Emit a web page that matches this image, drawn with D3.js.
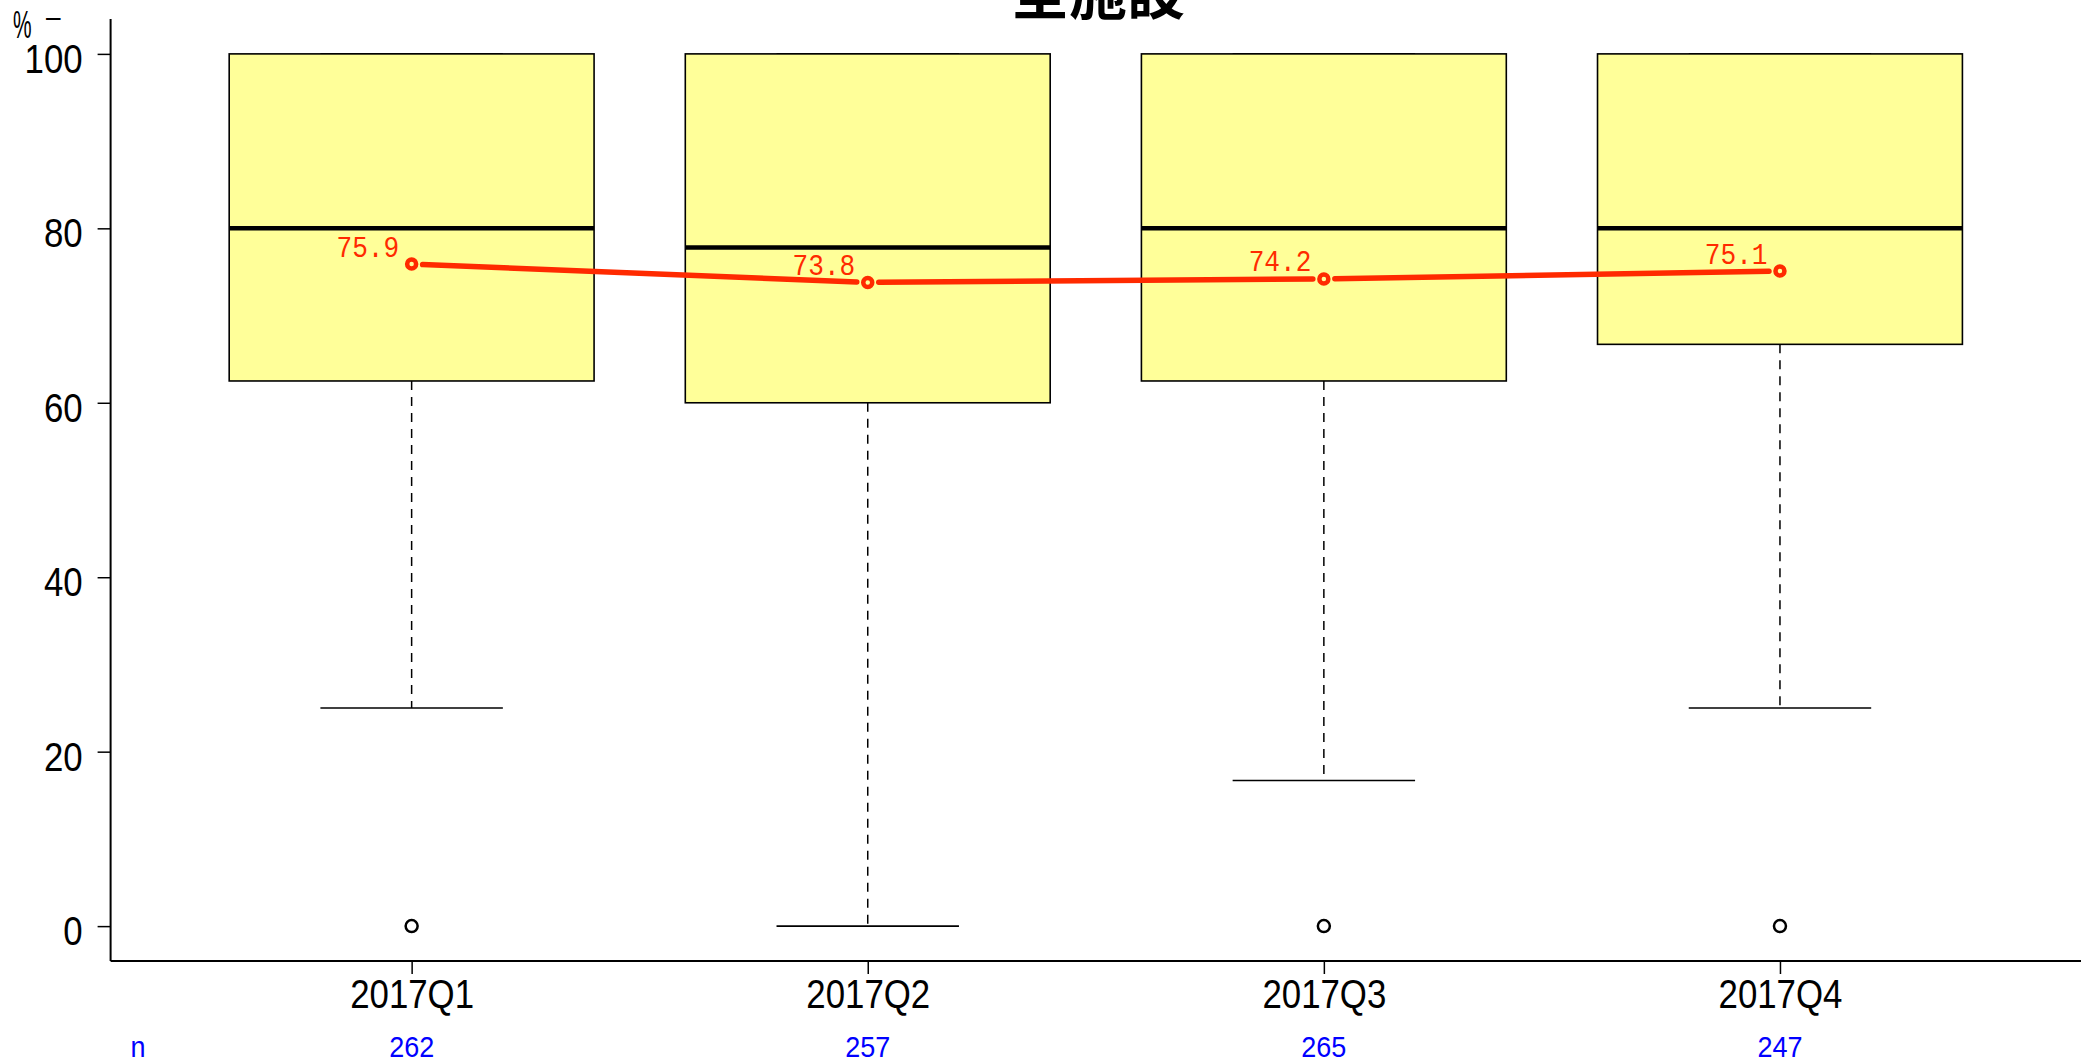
<!DOCTYPE html>
<html><head><meta charset="utf-8">
<script src="https://cdn.jsdelivr.net/npm/d3@7"></script>
<style>html,body{margin:0;padding:0;background:#fff;}svg{display:block;}</style>
</head><body>
<svg id="chart" width="2089" height="1063"></svg>
<script>
// ---- data ----
const categories = ["2017Q1", "2017Q2", "2017Q3", "2017Q4"];
const whiskerLow = [25, 0, 16.7, 25];
const q1 = [62.5, 60, 62.5, 66.7];
const median = [80, 77.8, 80, 80];
const q3 = [100, 100, 100, 100];
const whiskerHigh = [100, 100, 100, 100];
const outliers = [[0], [], [0], [0]];
const means = [75.9, 73.8, 74.2, 75.1];
const meanLabels = ["75.9", "73.8", "74.2", "75.1"];
const counts = [262, 257, 265, 247];
const yTicks = [0, 20, 40, 60, 80, 100];
const title = "全施設";

// ---- layout ----
const svg = d3.select("#chart");
const x = d3.scaleLinear().domain([0.34, 4.66]).range([110.6, 2081]);
const y = d3.scaleLinear().domain([-4, 104]).range([961, 19]);
const boxHalf = 0.4, capHalf = 0.2;
const SX = 0.87;
const red = "#ff2a00";
const sans = "'Liberation Sans', Arial, sans-serif";

// title
svg.append("text").attr("x", 1098).attr("y", 14).attr("text-anchor", "middle")
  .attr("font-family", "'Noto Sans CJK JP', sans-serif").attr("font-weight", "bold")
  .attr("font-size", 58).attr("fill", "#000").text(title);

// % label
svg.append("text").attr("transform", "translate(13,38) scale(0.55,1)")
  .attr("font-family", sans).attr("font-size", 38).text("%");
svg.append("text").attr("transform", "translate(46,27) scale(0.87,1)")
  .attr("font-family", sans).attr("font-size", 30).text("–");

const data = categories.map((c, i) => ({c, i, pos: i + 1}));

// whiskers (dashed)
const g = svg.append("g");
g.selectAll(".wl").data(data).join("line")
  .attr("x1", d => x(d.pos)).attr("x2", d => x(d.pos))
  .attr("y1", d => y(q1[d.i])).attr("y2", d => y(whiskerLow[d.i]))
  .attr("stroke", "#000").attr("stroke-width", 1.5).attr("stroke-dasharray", "9,7");
g.selectAll(".wh").data(data).join("line")
  .attr("x1", d => x(d.pos)).attr("x2", d => x(d.pos))
  .attr("y1", d => y(q3[d.i])).attr("y2", d => y(whiskerHigh[d.i]))
  .attr("stroke", "#000").attr("stroke-width", 1.5).attr("stroke-dasharray", "9,7");
// caps
g.selectAll(".cl").data(data).join("line")
  .attr("x1", d => x(d.pos - capHalf)).attr("x2", d => x(d.pos + capHalf))
  .attr("y1", d => y(whiskerLow[d.i])).attr("y2", d => y(whiskerLow[d.i]))
  .attr("stroke", "#000").attr("stroke-width", 1.6);
g.selectAll(".ch").data(data).join("line")
  .attr("x1", d => x(d.pos - capHalf)).attr("x2", d => x(d.pos + capHalf))
  .attr("y1", d => y(whiskerHigh[d.i])).attr("y2", d => y(whiskerHigh[d.i]))
  .attr("stroke", "#000").attr("stroke-width", 1.6);
// boxes
g.selectAll(".box").data(data).join("rect")
  .attr("x", d => x(d.pos - boxHalf)).attr("width", d => x(d.pos + boxHalf) - x(d.pos - boxHalf))
  .attr("y", d => y(q3[d.i])).attr("height", d => y(q1[d.i]) - y(q3[d.i]))
  .attr("fill", "#ffff99").attr("stroke", "#000").attr("stroke-width", 1.6);
// medians
g.selectAll(".med").data(data).join("line")
  .attr("x1", d => x(d.pos - boxHalf)).attr("x2", d => x(d.pos + boxHalf))
  .attr("y1", d => y(median[d.i])).attr("y2", d => y(median[d.i]))
  .attr("stroke", "#000").attr("stroke-width", 4.5);
// outliers
const outPts = [];
outliers.forEach((arr, i) => arr.forEach(v => outPts.push({pos: i + 1, v})));
g.selectAll(".out").data(outPts).join("circle")
  .attr("cx", d => x(d.pos)).attr("cy", d => y(d.v)).attr("r", 6)
  .attr("fill", "none").attr("stroke", "#000").attr("stroke-width", 2.5);

// axes (L box)
svg.append("line").attr("x1", x(0.34)).attr("x2", x(0.34)).attr("y1", y(104)).attr("y2", y(-4))
  .attr("stroke", "#000").attr("stroke-width", 2);
svg.append("line").attr("x1", x(0.34)).attr("x2", x(4.66)).attr("y1", y(-4)).attr("y2", y(-4))
  .attr("stroke", "#000").attr("stroke-width", 2);

const yAxis = svg.append("g").attr("transform", `translate(${x(0.34)},0)`)
  .call(d3.axisLeft(y).tickValues(yTicks).tickSize(13).tickFormat(d3.format("d")));
yAxis.select(".domain").remove();
yAxis.selectAll(".tick line").attr("stroke-width", 1.5);
yAxis.selectAll(".tick text").attr("x", null).attr("dy", null)
  .attr("transform", `translate(-28,18.5) scale(${SX},1)`)
  .attr("font-family", sans).attr("font-size", 40).attr("fill", "#000");

const xAxis = svg.append("g").attr("transform", `translate(0,${y(-4)})`)
  .call(d3.axisBottom(x).tickValues(data.map(d => d.pos)).tickSize(13)
    .tickFormat((d, i) => categories[i]));
xAxis.select(".domain").remove();
xAxis.selectAll(".tick line").attr("stroke-width", 1.5);
xAxis.selectAll(".tick text").attr("y", null).attr("dy", null)
  .attr("transform", `translate(0,46.5) scale(${SX},1)`)
  .attr("font-family", sans).attr("font-size", 40).attr("fill", "#000");

// n row
svg.append("text").attr("transform", `translate(${x(0.40)},1056.5) scale(0.9,1)`)
  .attr("text-anchor", "middle").attr("font-family", sans).attr("font-size", 30)
  .attr("fill", "#0000ff").text("n");
svg.selectAll(".nlab").data(data).join("text")
  .attr("transform", d => `translate(${x(d.pos)},1056.5) scale(0.9,1)`)
  .attr("text-anchor", "middle").attr("font-family", sans).attr("font-size", 30)
  .attr("fill", "#0000ff").text(d => counts[d.i]);

// mean line (type "b" with gaps)
const gap = 11;
const mp = data.map(d => [x(d.pos), y(means[d.i])]);
const segs = [];
for (let k = 0; k < mp.length - 1; k++) {
  const [x0, y0] = mp[k], [x1, y1] = mp[k + 1];
  const L = Math.hypot(x1 - x0, y1 - y0), ux = (x1 - x0) / L, uy = (y1 - y0) / L;
  segs.push([[x0 + ux * gap, y0 + uy * gap], [x1 - ux * gap, y1 - uy * gap]]);
}
svg.selectAll(".mseg").data(segs).join("path")
  .attr("d", d => d3.line()(d)).attr("stroke", red).attr("stroke-width", 5.5)
  .attr("stroke-linecap", "round").attr("fill", "none");
svg.selectAll(".mpt").data(data).join("circle")
  .attr("cx", d => x(d.pos)).attr("cy", d => y(means[d.i])).attr("r", 4.5)
  .attr("fill", "none").attr("stroke", red).attr("stroke-width", 4.5);
svg.selectAll(".mlab").data(data).join("text")
  .attr("transform", d => `translate(${x(d.pos) - 12.5},${y(means[d.i]) - 7.5}) scale(${SX},1)`)
  .attr("text-anchor", "end").attr("font-family", "'Liberation Mono', monospace")
  .attr("font-size", 30).attr("fill", red).text(d => meanLabels[d.i]);
</script>
</body></html>
